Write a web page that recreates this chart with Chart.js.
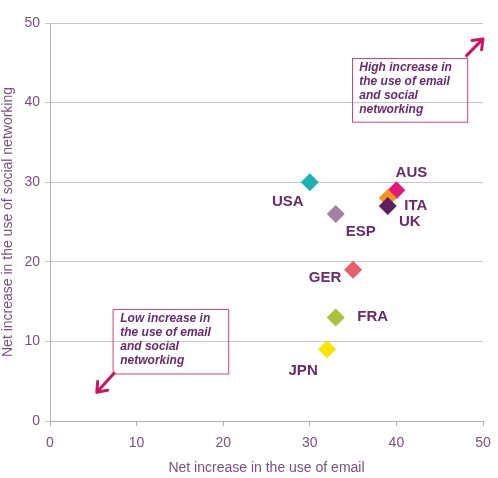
<!DOCTYPE html>
<html>
<head>
<meta charset="utf-8">
<style>
  html, body { margin: 0; padding: 0; background: #fff; }
  #wrap { width: 498px; height: 478px; position: relative; }
</style>
<script src="https://cdn.jsdelivr.net/npm/chart.js@4/dist/chart.umd.min.js"></script>
</head>
<body>
<div id="wrap"><canvas id="chart"></canvas></div>
<script>
// Country data: net increase in use of email (x) and social networking (y)
const countries = ["USA", "ESP", "AUS", "ITA", "UK", "GER", "FRA", "JPN"];
const emailIncrease = [30, 33, 40, 39, 39, 35, 33, 32];
const socialIncrease = [30, 26, 29, 28, 27, 19, 13, 9];
const pointColors = ["#1bb1b5", "#a47fa6", "#e5197a", "#f7941d", "#5b1f62", "#e8606a", "#a5c43a", "#f6e500"];
const xTicks = [0, 10, 20, 30, 40, 50];
const yTicks = [0, 10, 20, 30, 40, 50];

// label offsets (px) relative to each point
const labelOffsets = {
  USA: [-22, 20], ESP: [25, 18], AUS: [15, -17], ITA: [28, 8],
  UK: [22, 16], GER: [-28, 8], FRA: [37, -1], JPN: [-24, 21]
};

const notes = [
  { lines: ["High increase in", "the use of email", "and social", "networking"],
    box: [34.9, 45.6, 48.2, 37.6], arrow: [48.1, 45.9, 50.0, 48.0] },
  { lines: ["Low increase in", "the use of email", "and social", "networking"],
    box: [7.3, 14.1, 20.6, 6.0], arrow: [7.4, 6.0, 5.4, 3.6] }
];

const labelColor = "#6a2a6f";
const pink = "#d6417c";
const arrowPink = "#c8175f";

const pointLabels = {
  id: "pointLabels",
  afterDatasetsDraw(chart) {
    const ctx = chart.ctx;
    const meta = chart.getDatasetMeta(0);
    ctx.save();
    ctx.font = "bold 15px 'Liberation Sans', Arial, sans-serif";
    ctx.fillStyle = labelColor;
    ctx.textAlign = "center";
    ctx.textBaseline = "middle";
    meta.data.forEach((pt, i) => {
      const off = labelOffsets[countries[i]];
      ctx.fillText(countries[i], pt.x + off[0], pt.y + off[1]);
    });
    ctx.restore();
  }
};

const noteBoxes = {
  id: "noteBoxes",
  afterDatasetsDraw(chart) {
    const ctx = chart.ctx;
    const xs = chart.scales.x, ys = chart.scales.y;
    ctx.save();
    notes.forEach((n) => {
      const x1 = xs.getPixelForValue(n.box[0]), y1 = ys.getPixelForValue(n.box[1]);
      const x2 = xs.getPixelForValue(n.box[2]), y2 = ys.getPixelForValue(n.box[3]);
      ctx.strokeStyle = pink;
      ctx.lineWidth = 1;
      ctx.strokeRect(Math.round(x1) + 0.5, Math.round(y1) + 0.5, x2 - x1, y2 - y1);
      ctx.font = "italic bold 12px 'Liberation Sans', Arial, sans-serif";
      ctx.fillStyle = labelColor;
      ctx.textAlign = "left";
      ctx.textBaseline = "middle";
      n.lines.forEach((t, k) => ctx.fillText(t, x1 + 7, y1 + 10 + k * 14));

      // arrow
      const ax1 = xs.getPixelForValue(n.arrow[0]), ay1 = ys.getPixelForValue(n.arrow[1]);
      const ax2 = xs.getPixelForValue(n.arrow[2]), ay2 = ys.getPixelForValue(n.arrow[3]);
      const ang = Math.atan2(ay2 - ay1, ax2 - ax1);
      ctx.strokeStyle = arrowPink;
      ctx.lineWidth = 3;
      ctx.lineCap = "round";
      ctx.lineJoin = "round";
      ctx.beginPath();
      ctx.moveTo(ax1, ay1);
      ctx.lineTo(ax2, ay2);
      ctx.moveTo(ax2 - 11 * Math.cos(ang - 0.65), ay2 - 11 * Math.sin(ang - 0.65));
      ctx.lineTo(ax2, ay2);
      ctx.lineTo(ax2 - 11 * Math.cos(ang + 0.65), ay2 - 11 * Math.sin(ang + 0.65));
      ctx.stroke();
    });
    ctx.restore();
  }
};

const tickFont = { family: "'Liberation Sans', Arial, sans-serif", size: 14 };
const titleFont = { family: "'Liberation Sans', Arial, sans-serif", size: 14 };
const tickColor = "#7a4f80";

new Chart(document.getElementById("chart"), {
  type: "scatter",
  data: {
    datasets: [{
      data: countries.map((c, i) => ({ x: emailIncrease[i], y: socialIncrease[i] })),
      backgroundColor: pointColors,
      borderColor: pointColors,
      pointStyle: "rectRot",
      pointRadius: 9,
      pointHoverRadius: 9,
      borderWidth: 0
    }]
  },
  options: {
    responsive: true,
    maintainAspectRatio: false,
    animation: false,
    layout: { padding: { top: 23, right: 15, left: 0, bottom: 0 } },
    plugins: { legend: { display: false }, tooltip: { enabled: false } },
    scales: {
      x: {
        type: "linear",
        min: 0,
        max: 50,
        afterBuildTicks: (s) => { s.ticks = xTicks.map((v) => ({ value: v })); },
        afterFit: (s) => { s.height = 57; s.paddingRight = 10; s.paddingLeft = 5; },
        grid: { drawOnChartArea: false, drawTicks: true, tickLength: 5, color: "#b0b0b0" },
        border: { color: "#b0b0b0" },
        ticks: { font: tickFont, color: tickColor, padding: 9, maxRotation: 0 },
        title: { display: true, text: "Net increase in the use of email", font: titleFont, color: tickColor, padding: { top: 0, bottom: 1 } }
      },
      y: {
        type: "linear",
        min: 0,
        max: 50,
        afterBuildTicks: (s) => { s.ticks = yTicks.map((v) => ({ value: v })); },
        afterFit: (s) => { s.width = 50; },
        grid: { color: "#c8c8c8", drawTicks: true, tickLength: 5 },
        border: { color: "#b0b0b0" },
        ticks: { font: tickFont, color: tickColor, padding: 5 },
        title: { display: true, text: "Net increase in the use of social networking", font: titleFont, color: tickColor, padding: 0 }
      }
    }
  },
  plugins: [pointLabels, noteBoxes]
});
</script>
</body>
</html>
